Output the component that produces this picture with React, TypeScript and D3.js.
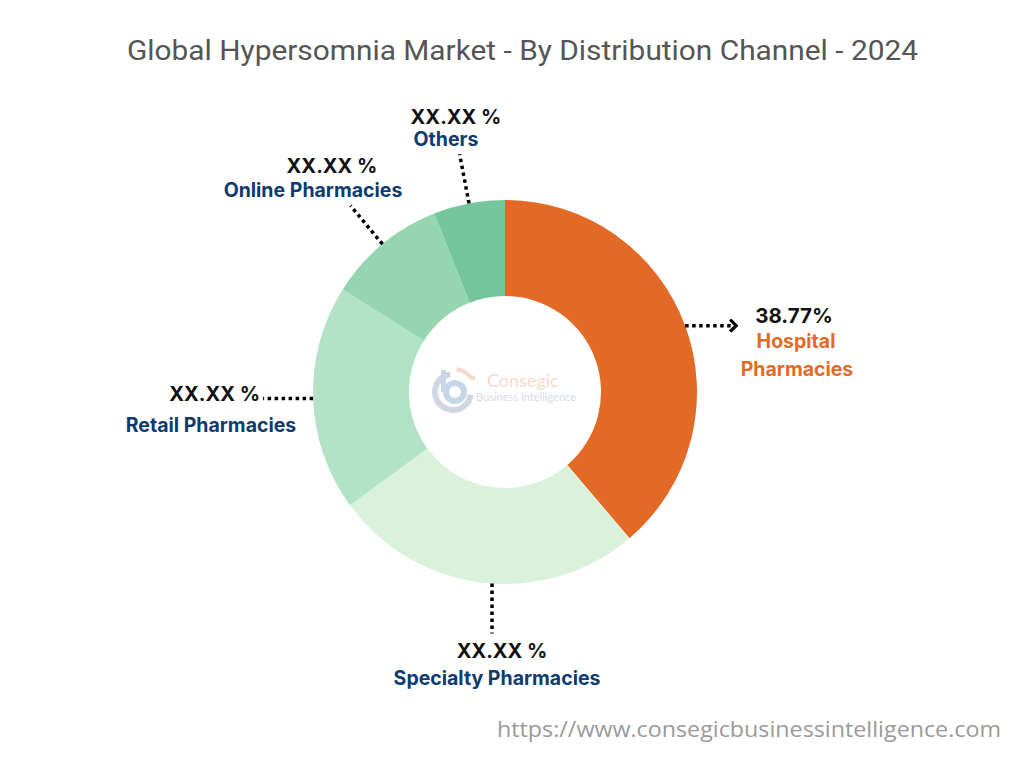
import React, { useEffect } from "react";
import * as d3 from "d3";

// chart values
const categories = [
  "Hospital Pharmacies",
  "Specialty Pharmacies",
  "Retail Pharmacies",
  "Online Pharmacies",
  "Others",
];
const shares = [38.77, 26.2, 19.0, 10.03, 6.0];
const valueLabels = ["38.77%", "XX.XX %", "XX.XX %", "XX.XX %", "XX.XX %"];
const sliceColors = ["#E36A26", "#DAF2DC", "#B3E3C6", "#95D6B1", "#74C69C"];

const titleText = "Global Hypersomnia Market - By Distribution Channel - 2024";
const sourceText = "https://www.consegicbusinessintelligence.com";

const W = 1024;
const H = 768;
const cx = 505;
const cy = 392;
const outerR = 192;
const innerR = 96;
const leaderLen = 50;

// how each leader leaves the ring: "h" horizontal, "v" vertical, "r" radial
const leaderMode = ["h", "v", "h", "r", "r"];
// small nudge of the leader angle (radians) so it sits where the original puts it
const leaderShift = [0, -0.05, 0, 0, 0];

export default function App() {
  useEffect(() => {
    document.body.style.margin = "0";
  }, []);

  const pie = d3
    .pie<number>()
    .sort(null)
    .value((d) => d)
    .startAngle(0)
    .endAngle(2 * Math.PI);
  const arcs = pie(shares);
  const arc = d3
    .arc<d3.PieArcDatum<number>>()
    .innerRadius(innerR)
    .outerRadius(outerR);

  // leader lines from each slice's middle angle
  const leaders = arcs.map((a, i) => {
    const mid = (a.startAngle + a.endAngle) / 2 + leaderShift[i];
    const sx = cx + Math.sin(mid) * outerR;
    const sy = cy - Math.cos(mid) * outerR;
    let ex = sx;
    let ey = sy;
    if (leaderMode[i] === "h") {
      ex = sx + (Math.sin(mid) > 0 ? 1 : -1) * leaderLen;
    } else if (leaderMode[i] === "v") {
      ey = sy + (Math.cos(mid) < 0 ? 1 : -1) * leaderLen;
    } else {
      ex = cx + Math.sin(mid) * (outerR + leaderLen);
      ey = cy - Math.cos(mid) * (outerR + leaderLen);
    }
    return { sx, sy, ex, ey, mid };
  });

  const valueFont = "Inter, 'Noto Sans', sans-serif";
  const navy = "#0D3B6E";
  const catSize = 19.5;

  return (
    <svg width={W} height={H} style={{ display: "block", background: "#fff" }}>
      <text
        x={127}
        y={60}
        fontFamily="Roboto, sans-serif"
        fontWeight={400}
        fontSize={28}
        fill="#555"
        textLength={791}
        lengthAdjust="spacingAndGlyphs"
      >
        {titleText}
      </text>

      <g>
        {arcs.map((a, i) => (
          <path
            key={categories[i]}
            d={arc(a) || ""}
            transform={`translate(${cx},${cy})`}
            fill={sliceColors[i]}
          />
        ))}
      </g>

      {/* watermark logo */}
      <g opacity={0.35}>
        <path
          d={
            d3.arc()({
              innerRadius: 15,
              outerRadius: 21,
              startAngle: Math.PI * 0.55,
              endAngle: Math.PI * 1.95,
            } as any) || ""
          }
          transform="translate(453,392)"
          fill="#7d8fae"
        />
        <path
          d={
            d3.arc()({
              innerRadius: 6,
              outerRadius: 12,
              startAngle: 0,
              endAngle: Math.PI * 2,
            } as any) || ""
          }
          transform="translate(455,392)"
          fill="#5d8fc0"
        />
        <rect x={441} y={370} width={5} height={22} fill="#5d8fc0" />
        <path
          d={
            d3.arc()({
              innerRadius: 21,
              outerRadius: 25,
              startAngle: Math.PI * 0.05,
              endAngle: Math.PI * 0.3,
            } as any) || ""
          }
          transform="translate(453,392)"
          fill="#e9956a"
        />
        <circle cx={473} cy={378} r={2.5} fill="#e9956a" />
        <text
          x={487}
          y={387}
          fontFamily="Lato, sans-serif"
          fontSize={18}
          fill="#e9956a"
        >
          Consegic
        </text>
        <text
          x={476}
          y={401}
          fontFamily="Lato, sans-serif"
          fontSize={11}
          fill="#8a9bb8"
        >
          Business Intelligence
        </text>
      </g>

      {/* leader lines */}
      {leaders.map((l, i) => (
        <line
          key={"ld" + i}
          x1={l.sx}
          y1={l.sy}
          x2={l.ex}
          y2={l.ey}
          stroke="#000"
          strokeWidth={3.5}
          strokeDasharray="3.5,3.5"
        />
      ))}
      <polyline
        points={`${leaders[0].ex - 5},${leaders[0].ey - 6} ${leaders[0].ex + 1},${leaders[0].ey} ${leaders[0].ex - 5},${leaders[0].ey + 6}`}
        fill="none"
        stroke="#000"
        strokeWidth={3.2}
      />

      <g fontFamily={valueFont} fontWeight={700}>
        {/* Hospital Pharmacies */}
        <text x={leaders[0].ex + 20} y={leaders[0].ey - 3} fontSize={20.5} fill="#111">
          {valueLabels[0]}
        </text>
        <text x={796} y={348} textAnchor="middle" fontSize={catSize} fill="#E36A26">
          Hospital
        </text>
        <text x={797} y={376} textAnchor="middle" fontSize={catSize} fill="#E36A26">
          Pharmacies
        </text>

        {/* Specialty */}
        <text x={leaders[1].sx + 10} y={leaders[1].ey + 24} textAnchor="middle" fontSize={20} fill="#111">
          {valueLabels[1]}
        </text>
        <text x={leaders[1].sx + 5} y={leaders[1].ey + 51} textAnchor="middle" fontSize={catSize} fill={navy}>
          {categories[1]}
        </text>

        {/* Retail */}
        <text x={leaders[2].ex - 3} y={401} textAnchor="end" fontSize={20} fill="#111">
          {valueLabels[2]}
        </text>
        <text x={211} y={432} textAnchor="middle" fontSize={catSize} fill={navy}>
          {categories[2]}
        </text>

        {/* Online */}
        <text x={332} y={173} textAnchor="middle" fontSize={20} fill="#111">
          {valueLabels[3]}
        </text>
        <text x={313} y={197} textAnchor="middle" fontSize={catSize} fill={navy}>
          {categories[3]}
        </text>

        {/* Others */}
        <text x={456} y={124} textAnchor="middle" fontSize={20} fill="#111">
          {valueLabels[4]}
        </text>
        <text x={446} y={146} textAnchor="middle" fontSize={catSize} fill={navy}>
          {categories[4]}
        </text>
      </g>

      <text
        x={497}
        y={737}
        fontFamily="'Open Sans', sans-serif"
        fontSize={22}
        fill="#9a9a9a"
        textLength={504}
        lengthAdjust="spacingAndGlyphs"
      >
        {sourceText}
      </text>
    </svg>
  );
}
